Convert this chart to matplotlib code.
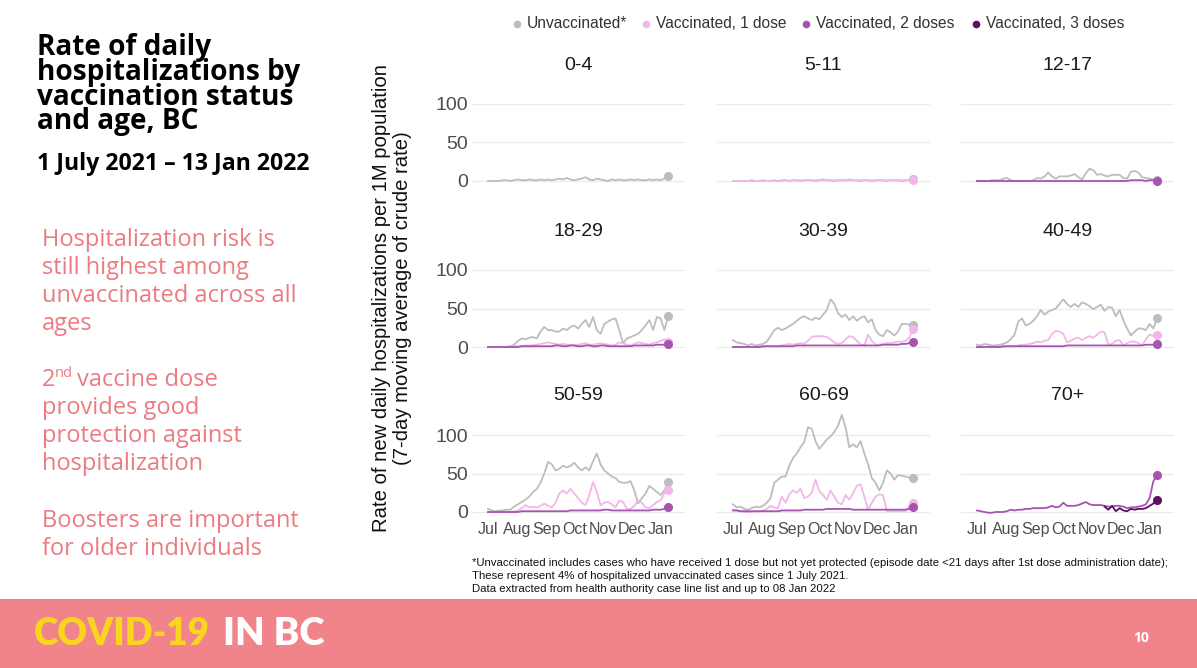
import matplotlib.pyplot as plt
import numpy as np
import pandas as pd
from matplotlib.patches import Rectangle

# ---- data (rate per 1M, 7-day avg, every 4 days from 1 Jul 2021) ----
dates = pd.date_range('2021-07-01', periods=49, freq='4D')
month_ticks = pd.date_range('2021-07-01', '2022-01-01', freq='MS')
month_labels = ['Jul', 'Aug', 'Sep', 'Oct', 'Nov', 'Dec', 'Jan']
ages = ['0-4', '5-11', '12-17', '18-29', '30-39', '40-49', '50-59', '60-69', '70+']

unvax_0_4 = [0, 0, 0, 0, 1, 1, 0, 1, 2, 1, 1, 2, 1, 1, 2, 1, 2, 1, 2, 3,
             2, 4, 2, 1, 2, 3, 5, 2, 1, 3, 2, 1, 0, 2, 1, 2, 1, 1, 2, 1,
             2, 1, 1, 2, 1, 2, 1, 3, 7]

unvax_5_11 = [0, 0, 0, 0, 0, 1, 0, 0, 1, 0, 0, 1, 0, 1, 1, 0, 1, 1, 0, 1,
              1, 1, 0, 1, 2, 1, 1, 0, 1, 1, 1, 2, 1, 1, 0, 1, 1, 0, 1, 1,
              1, 0, 1, 1, 1, 0, 1, 1, 2]
dose1_5_11 = [0, 0, 0, 0, 0, 0, 0, 0, 0, 0, 0, 0, 0, 0, 1, 0, 1, 1, 1, 1,
              1, 1, 1, 1, 1, 1, 1, 1, 1, 1, 1, 1, 1, 1, 1, 1, 1, 1, 1, 1,
              1, 1, 1, 1, 1, 1, 1, 1, 1]

unvax_12_17 = [0, 0, 0, 0, 1, 1, 1, 3, 4, 1, 0, 0, 0, 0, 0, 1, 4, 3, 6, 11,
               6, 3, 6, 6, 6, 7, 9, 5, 2, 10, 16, 14, 8, 9, 7, 6, 8, 8, 8, 4,
               3, 12, 13, 11, 5, 4, 3, 2, 1]
dose2_12_17 = [0, 0, 0, 0, 0, 0, 0, 0, 0, 0, 0, 0, 0, 0, 0, 0, 0, 0, 0, 0,
               0, 0, 0, 0, 0, 0, 0, 0, 0, 0, 0, 0, 0, 0, 0, 0, 0, 0, 0, 0,
               0, 1, 1, 1, 1, 0, 1, 1, 0]

unvax_18_29 = [0, 0, 0, 0, 0, 0, 1, 3, 8, 11, 10, 12, 13, 11, 20, 26, 22, 22, 20, 20,
               24, 22, 26, 28, 24, 30, 35, 26, 39, 22, 17, 30, 33, 36, 37, 22, 5, 11, 13, 15,
               17, 22, 28, 35, 22, 39, 37, 22, 40]
dose1_18_29 = [0, 0, 0, 0, 0, 0, 1, 1, 1, 1, 2, 2, 2, 3, 4, 5, 6, 5, 4, 3,
               4, 3, 3, 2, 3, 4, 5, 3, 3, 4, 5, 4, 3, 2, 3, 6, 5, 3, 2, 4,
               6, 5, 4, 3, 5, 6, 8, 10, 7]
dose2_18_29 = [0, 0, 0, 0, 0, 0, 0, 0, 0, 1, 1, 1, 1, 1, 1, 1, 1, 1, 2, 2,
               1, 1, 2, 2, 1, 1, 2, 2, 1, 1, 2, 2, 1, 1, 1, 1, 1, 1, 1, 2,
               2, 2, 2, 2, 2, 3, 3, 3, 4]

unvax_30_39 = [9, 6, 5, 4, 2, 4, 2, 3, 4, 7, 14, 22, 25, 22, 24, 27, 30, 34, 38, 40,
               37, 35, 38, 36, 42, 48, 62, 56, 44, 39, 42, 35, 40, 34, 38, 40, 32, 36, 22, 16,
               14, 22, 19, 15, 20, 30, 30, 29, 28]
dose1_30_39 = [0, 0, 0, 0, 0, 0, 0, 1, 0, 1, 1, 1, 1, 2, 3, 4, 3, 4, 5, 4,
               8, 13, 14, 14, 14, 13, 10, 6, 4, 5, 10, 14, 13, 8, 3, 2, 16, 8, 3, 3,
               4, 5, 5, 6, 7, 7, 8, 12, 24]
dose2_30_39 = [0, 0, 0, 0, 0, 0, 0, 0, 1, 1, 1, 1, 1, 1, 1, 1, 1, 2, 2, 2,
               2, 2, 2, 2, 2, 2, 2, 2, 2, 2, 2, 2, 2, 2, 2, 2, 2, 2, 2, 2,
               3, 3, 3, 3, 3, 4, 4, 5, 6]

unvax_40_49 = [3, 2, 4, 3, 2, 2, 3, 4, 6, 10, 16, 33, 37, 28, 30, 34, 40, 48, 42, 46,
               48, 50, 56, 62, 56, 52, 56, 52, 58, 56, 53, 49, 52, 55, 47, 52, 51, 40, 48, 35,
               24, 15, 20, 24, 24, 22, 30, 24, 38]
dose1_40_49 = [0, 0, 0, 0, 0, 0, 0, 0, 1, 1, 1, 2, 3, 3, 4, 5, 7, 6, 8, 9,
               17, 21, 20, 17, 6, 8, 11, 12, 9, 12, 14, 12, 16, 20, 19, 3, 4, 8, 9, 2,
               5, 7, 7, 5, 2, 10, 16, 14, 16]
dose2_40_49 = [0, 0, 0, 0, 0, 0, 0, 1, 1, 1, 1, 1, 1, 1, 1, 1, 1, 1, 1, 1,
               1, 1, 1, 1, 2, 2, 2, 2, 2, 2, 2, 2, 2, 2, 2, 2, 2, 2, 2, 2,
               2, 2, 2, 2, 2, 3, 3, 3, 4]

unvax_50_59 = [4, 2, 1, 2, 2, 3, 3, 7, 10, 13, 16, 20, 26, 30, 38, 50, 65, 62, 54, 56,
               60, 58, 60, 64, 58, 54, 58, 54, 66, 76, 62, 54, 50, 46, 44, 39, 38, 38, 40, 28,
               11, 18, 24, 34, 30, 26, 22, 28, 39]
dose1_50_59 = [0, 0, 0, 0, 0, 0, 0, 1, 2, 5, 9, 6, 7, 6, 8, 11, 8, 6, 12, 24,
               28, 24, 30, 24, 18, 12, 9, 22, 39, 26, 9, 12, 13, 10, 6, 15, 13, 4, 4, 8,
               15, 12, 6, 5, 9, 13, 15, 24, 28]
dose2_50_59 = [0, 0, 0, 0, 0, 0, 0, 0, 0, 1, 1, 1, 1, 1, 1, 1, 1, 1, 1, 1,
               1, 1, 2, 2, 2, 2, 2, 2, 2, 2, 2, 3, 3, 2, 2, 2, 2, 2, 2, 2,
               2, 2, 2, 2, 3, 3, 3, 4, 6]

unvax_60_69 = [10, 6, 7, 4, 3, 5, 7, 6, 8, 12, 18, 38, 42, 46, 46, 60, 70, 76, 84, 91,
               110, 108, 92, 82, 88, 94, 98, 104, 112, 126, 110, 84, 88, 84, 92, 76, 62, 44, 38, 28,
               38, 54, 50, 42, 48, 47, 46, 45, 44]
dose1_60_69 = [3, 2, 1, 0, 0, 0, 1, 0, 2, 4, 8, 6, 5, 20, 12, 23, 28, 25, 30, 18,
               20, 25, 42, 27, 22, 16, 28, 20, 12, 10, 22, 16, 24, 34, 36, 20, 3, 12, 20, 23,
               22, 1, 1, 1, 1, 1, 1, 8, 12]
dose2_60_69 = [2, 2, 1, 1, 1, 1, 1, 1, 1, 1, 1, 1, 1, 2, 2, 2, 2, 2, 2, 3,
               3, 3, 3, 3, 3, 4, 4, 4, 4, 4, 4, 4, 3, 3, 3, 3, 3, 3, 3, 3,
               3, 3, 3, 3, 3, 3, 3, 4, 7]

dose2_70 = [2, 1, 0, -1, -1, 0, 0, 0, 1, 3, 2, 3, 3, 4, 4, 5, 5, 5, 5, 6,
            8, 6, 7, 12, 8, 8, 8, 9, 11, 13, 10, 9, 9, 9, 8, 7, 7, 8, 8, 7,
            5, 6, 6, 7, 8, 10, 18, 40, 48]
# boosters only appear from mid-November (last 15 points)
dose3_70 = [7, 3, 8, 1, 5, 2, 1, 4, 3, 4, 4, 5, 8, 11, 15]

status = ['Unvaccinated*', 'Vaccinated, 1 dose', 'Vaccinated, 2 doses', 'Vaccinated, 3 doses']
colors = ['#BDBDBD', '#F2B6EB', '#A555AE', '#5E0F5E']

panels = {
    '0-4': [(unvax_0_4, 0)],
    '5-11': [(unvax_5_11, 0), (dose1_5_11, 1)],
    '12-17': [(unvax_12_17, 0), (dose2_12_17, 2)],
    '18-29': [(unvax_18_29, 0), (dose1_18_29, 1), (dose2_18_29, 2)],
    '30-39': [(unvax_30_39, 0), (dose1_30_39, 1), (dose2_30_39, 2)],
    '40-49': [(unvax_40_49, 0), (dose1_40_49, 1), (dose2_40_49, 2)],
    '50-59': [(unvax_50_59, 0), (dose1_50_59, 1), (dose2_50_59, 2)],
    '60-69': [(unvax_60_69, 0), (dose1_60_69, 1), (dose2_60_69, 2)],
    '70+': [(dose2_70, 2), (dose3_70, 3)],
}

# ---- layout (pixels) ----
W, H = 1197, 668
fig = plt.figure(figsize=(W / 100, H / 100), dpi=100)
fig.patch.set_facecolor('white')
chart_font = 'Liberation Sans'
slide_font = 'Open Sans'


def box(left, top, width, height):
    return [left / W, 1 - (top + height) / H, width / W, height / H]


def txt(x, y, s, **kw):
    return fig.text(x / W, 1 - y / H, s, **kw)


col_left = [472, 717, 961]
row_zero = [181, 347, 512]
panel_w = 213
px_per_unit = 0.77
ylo, yhi = -8, 135

for i, age in enumerate(ages):
    r, c = divmod(i, 3)
    top = row_zero[r] - yhi * px_per_unit
    ax = fig.add_axes(box(col_left[c], top, panel_w, (yhi - ylo) * px_per_unit))
    for vals, k in panels[age]:
        v = np.array(vals, dtype=float)
        d = dates[-len(v):]
        ax.plot(d, v, color=colors[k], lw=1.3, zorder=2 + k, solid_joinstyle='round')
        ax.plot(d[-1], v[-1], 'o', ms=5.5, color=colors[k], zorder=2 + k)
    ax.set_ylim(ylo, yhi)
    ax.set_xlim(pd.Timestamp('2021-06-14'), pd.Timestamp('2022-01-27'))
    ax.set_yticks([0, 50, 100])
    ax.set_xticks(month_ticks)
    ax.grid(axis='y', color='#EBEBEB', lw=0.9)
    ax.set_axisbelow(True)
    for sp in ax.spines.values():
        sp.set_visible(False)
    ax.tick_params(length=0, labelcolor='#4D4D4D')
    if c == 0:
        ax.set_yticklabels(['0', '50', '100'], fontsize=14, family=chart_font)
        ax.tick_params(axis='y', pad=3)
    else:
        ax.set_yticklabels([])
    if r == 2:
        ax.set_xticklabels(month_labels, fontsize=11.5, family=chart_font)
        ax.tick_params(axis='x', pad=3)
    else:
        ax.set_xticklabels([])
    txt(col_left[c] + panel_w / 2, row_zero[r] - 116, age, ha='center', va='center',
        fontsize=14, family=chart_font, color='#1A1A1A')

# legend across the top
legend_x = [517, 646, 806, 976]
for lx, lab, col in zip(legend_x, status, colors):
    fig.add_artist(plt.Line2D([lx / W], [1 - 24 / H], marker='o', ms=4.5, color=col,
                              transform=fig.transFigure))
    txt(lx + 10, 24, lab, ha='left', va='center', fontsize=11.2, family=chart_font, color='#333333')

# shared y label
txt(392, 298, 'Rate of new daily hospitalizations per 1M population\n(7-day moving average of crude rate)',
    rotation=90, ha='center', va='center', multialignment='center', fontsize=14.6,
    family=chart_font, color='#111111', linespacing=1.1)

# footnote
notes = ['*Unvaccinated includes cases who have received 1 dose but not yet protected '
         '(episode date <21 days after 1st dose administration date);',
         'These represent 4% of hospitalized unvaccinated cases since 1 July 2021.',
         'Data extracted from health authority case line list and up to 08 Jan 2022']
txt(472, 576, '\n'.join(notes), ha='left', va='center', fontsize=8.2, family=chart_font,
    color='#111111', linespacing=1.4)

# left-hand slide text
title = 'Rate of daily\nhospitalizations by\nvaccination status\nand age, BC'
txt(37, 33, title, ha='left', va='top', fontsize=20.2, fontweight='bold',
    family=slide_font, color='black', linespacing=0.81)
txt(37, 170, '1 July 2021 \u2013 13 Jan 2022', ha='left', va='baseline', fontsize=16.7,
    fontweight='bold', family=slide_font, color='black')

pink = '#EC7B81'
para1 = ['Hospitalization risk is', 'still highest among', 'unvaccinated across all', 'ages']
for j, line in enumerate(para1):
    txt(42, 246 + 28 * j, line, ha='left', va='baseline', fontsize=17, family=slide_font, color=pink)
txt(42, 386, '2', ha='left', va='baseline', fontsize=17, family=slide_font, color=pink)
txt(55, 377, 'nd', ha='left', va='baseline', fontsize=10.5, family=slide_font, color=pink)
txt(77, 386, 'vaccine dose', ha='left', va='baseline', fontsize=17, family=slide_font, color=pink)
para2 = ['provides good', 'protection against', 'hospitalization']
for j, line in enumerate(para2):
    txt(42, 414 + 28 * j, line, ha='left', va='baseline', fontsize=17, family=slide_font, color=pink)
para3 = ['Boosters are important', 'for older individuals']
for j, line in enumerate(para3):
    txt(42, 527 + 28 * j, line, ha='left', va='baseline', fontsize=17, family=slide_font, color=pink)

# footer band
fig.add_artist(Rectangle((0, 0), 1, 1 - 599 / H, transform=fig.transFigure,
                         facecolor='#F1848A', edgecolor='none', zorder=5))
txt(34, 645, 'COVID-19', ha='left', va='baseline', fontsize=26.5, fontweight='heavy',
    family='Lato', color='#FAD51E', zorder=6)
txt(223, 645, 'IN BC', ha='left', va='baseline', fontsize=27.5, fontweight='heavy',
    family='Lato', color='white', zorder=6)
txt(1141, 638, '10', ha='center', va='center', fontsize=10, fontweight='bold',
    family=slide_font, color='white', zorder=6)

fig.savefig('out.png', dpi=100)
